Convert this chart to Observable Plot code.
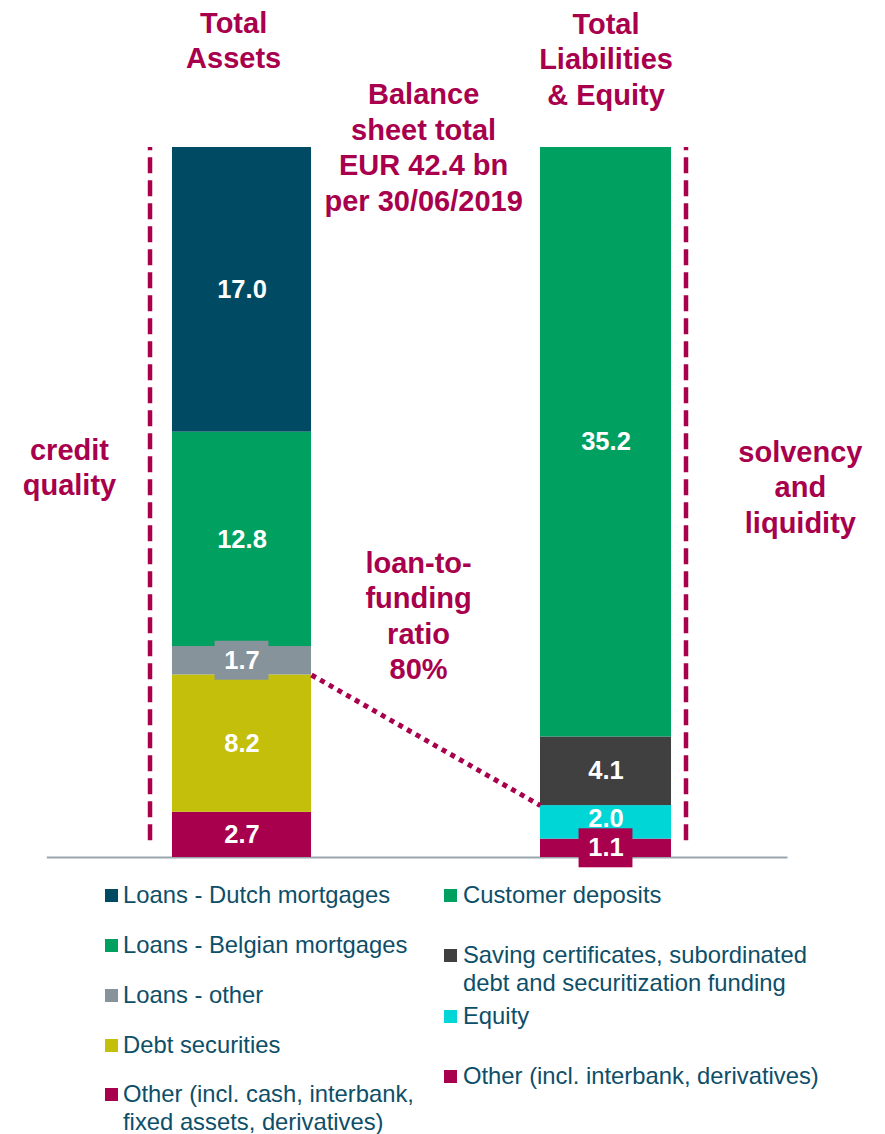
<!DOCTYPE html>
<html>
<head>
<meta charset="utf-8">
<script src="https://cdn.jsdelivr.net/npm/d3@7"></script>
<script src="https://cdn.jsdelivr.net/npm/@observablehq/plot@0.6"></script>
<style>
  body { margin: 0; background: #fff; font-family: "Liberation Sans", Arial, sans-serif; }
  #wrap { position: relative; width: 885px; height: 1134px; overflow: hidden; }
  #legend { position: absolute; left: 0; top: 870px; width: 885px; height: 264px; }
  .col { position: absolute; top: 0; }
  .item { position: relative; font-size: 23.8px; line-height: 28px; color: #0D4E68; white-space: pre; }
  .sw { position: absolute; left: 0; top: 8px; width: 13px; height: 13px; }
</style>
</head>
<body>
<div id="wrap">
  <div id="chart"></div>
  <div id="legend"></div>
</div>
<script>
// ---- data ----
const barTitles = ["Total\nAssets", "Total\nLiabilities\n& Equity"];
// listed top to bottom as in the legend
const assetCategories = [
  "Loans - Dutch mortgages",
  "Loans - Belgian mortgages",
  "Loans - other",
  "Debt securities",
  "Other (incl. cash, interbank,\nfixed assets, derivatives)"
];
const assetValues = [17.0, 12.8, 1.7, 8.2, 2.7];
const liabilityCategories = [
  "Customer deposits",
  "Saving certificates, subordinated\ndebt and securitization funding",
  "Equity",
  "Other (incl. interbank, derivatives)"
];
const liabilityValues = [35.2, 4.1, 2.0, 1.1];
const balanceSheetTotal = 42.4;
const reportDate = "30/06/2019";
const loanToFundingRatio = 80;

// ---- styles ----
const assetColors = ["#004B63", "#00A060", "#86939A", "#C3BF0A", "#A8004C"];
const liabilityColors = ["#00A060", "#404040", "#00D6D6", "#A8004C"];
const accent = "#A8004C";
const font = "'Liberation Sans', Arial, sans-serif";
const halfWidth = [0.191, 0.18];

// ---- stacking (bottom to top) ----
function stackRows(bar, cats, vals, colors) {
  const out = [];
  let acc = 0;
  for (let i = cats.length - 1; i >= 0; i--) {
    out.push({bar, category: cats[i], value: vals[i], color: colors[i], y1: acc, y2: acc + vals[i], mid: acc + vals[i] / 2});
    acc += vals[i];
  }
  return out;
}
const rows = [
  ...stackRows(0, assetCategories, assetValues, assetColors),
  ...stackRows(1, liabilityCategories, liabilityValues, liabilityColors)
];
const smallRows = rows.filter(d => d.value < 2);
// a label sitting right above a boxed label is nudged up slightly
rows.forEach((d, i) => {
  const below = rows[i - 1];
  d.dy = (below && below.bar === d.bar && below.value < 2 && d.value < 3) ? -4 : 0;
});

// dotted connector: top of debt securities (assets) -> top of equity (liabilities)
const assetStack = rows.filter(d => d.bar === 0);
const liabStack = rows.filter(d => d.bar === 1);
const connector = [{
  x1: 0 + halfWidth[0], y1: assetStack[1].y2,
  x2: 1 - halfWidth[1], y2: liabStack[1].y2
}];

const annotations = [
  {text: barTitles[0], x: -0.023, y: 48.85},
  {text: barTitles[1], x: 1.0, y: 47.75},
  {text: `Balance\nsheet total\nEUR ${balanceSheetTotal} bn\nper ${reportDate}`, x: 0.499, y: 42.48},
  {text: "credit\nquality", x: -0.474, y: 23.35},
  {text: "solvency\nand\nliquidity", x: 1.534, y: 22.19},
  {text: `loan-to-\nfunding\nratio\n${loanToFundingRatio}%`, x: 0.485, y: 14.5}
];

const chart = Plot.plot({
  width: 885,
  height: 870,
  style: {fontFamily: font, background: "#fff"},
  x: {domain: [0, 1], range: [241.5, 605.5], axis: null},
  y: {domain: [0, balanceSheetTotal], range: [857, 147], axis: null},
  color: {type: "identity"},
  marks: [
    Plot.ruleY([0], {x1: -0.535, x2: 1.5, stroke: "#9BA5AD", strokeWidth: 2}),
    Plot.ruleX([-0.2527, 1.2198], {y1: 1.0, y2: balanceSheetTotal, stroke: accent, strokeWidth: 4.5, strokeDasharray: "16,7"}),
    Plot.rect(rows, {
      x1: d => d.bar - halfWidth[d.bar],
      x2: d => d.bar + halfWidth[d.bar],
      y1: "y1", y2: "y2", fill: "color"
    }),
    Plot.link(connector, {x1: "x1", y1: "y1", x2: "x2", y2: "y2", stroke: accent, strokeWidth: 5, strokeDasharray: "5,5"}),
    Plot.rect(smallRows, {
      x1: d => d.bar - 0.074, x2: d => d.bar + 0.074,
      y1: "mid", y2: "mid", insetTop: -19.5, insetBottom: -19.5, fill: "color"
    }),
    Plot.text(rows.filter(d => d.dy === 0), {
      x: "bar", y: "mid", text: d => d.value.toFixed(1),
      fill: "white", fontSize: 25.5, fontWeight: "bold", fontFamily: font
    }),
    Plot.text(rows.filter(d => d.dy !== 0), {
      x: "bar", y: "mid", dy: -4, text: d => d.value.toFixed(1),
      fill: "white", fontSize: 25.5, fontWeight: "bold", fontFamily: font
    }),
    Plot.text(annotations, {
      x: "x", y: "y", text: "text", fill: accent, fontSize: 29, fontWeight: "bold",
      fontFamily: font, lineHeight: 1.22
    })
  ]
});
document.getElementById("chart").appendChild(chart);

// ---- legend ----
function buildLegend(left, cats, colors, tops, pad) {
  const col = document.createElement("div");
  col.className = "col";
  col.style.left = left + "px";
  cats.forEach((c, i) => {
    const it = document.createElement("div");
    it.className = "item";
    it.style.position = "absolute";
    it.style.top = tops[i] + "px";
    it.style.paddingLeft = pad + "px";
    const sw = document.createElement("span");
    sw.className = "sw";
    sw.style.background = colors[i];
    it.appendChild(sw);
    it.appendChild(document.createTextNode(c));
    col.appendChild(it);
  });
  document.getElementById("legend").appendChild(col);
}
buildLegend(105, assetCategories, assetColors, [11, 61, 111, 161, 210], 18);
buildLegend(444, liabilityCategories, liabilityColors, [11, 71, 132, 192], 19);
</script>
</body>
</html>
